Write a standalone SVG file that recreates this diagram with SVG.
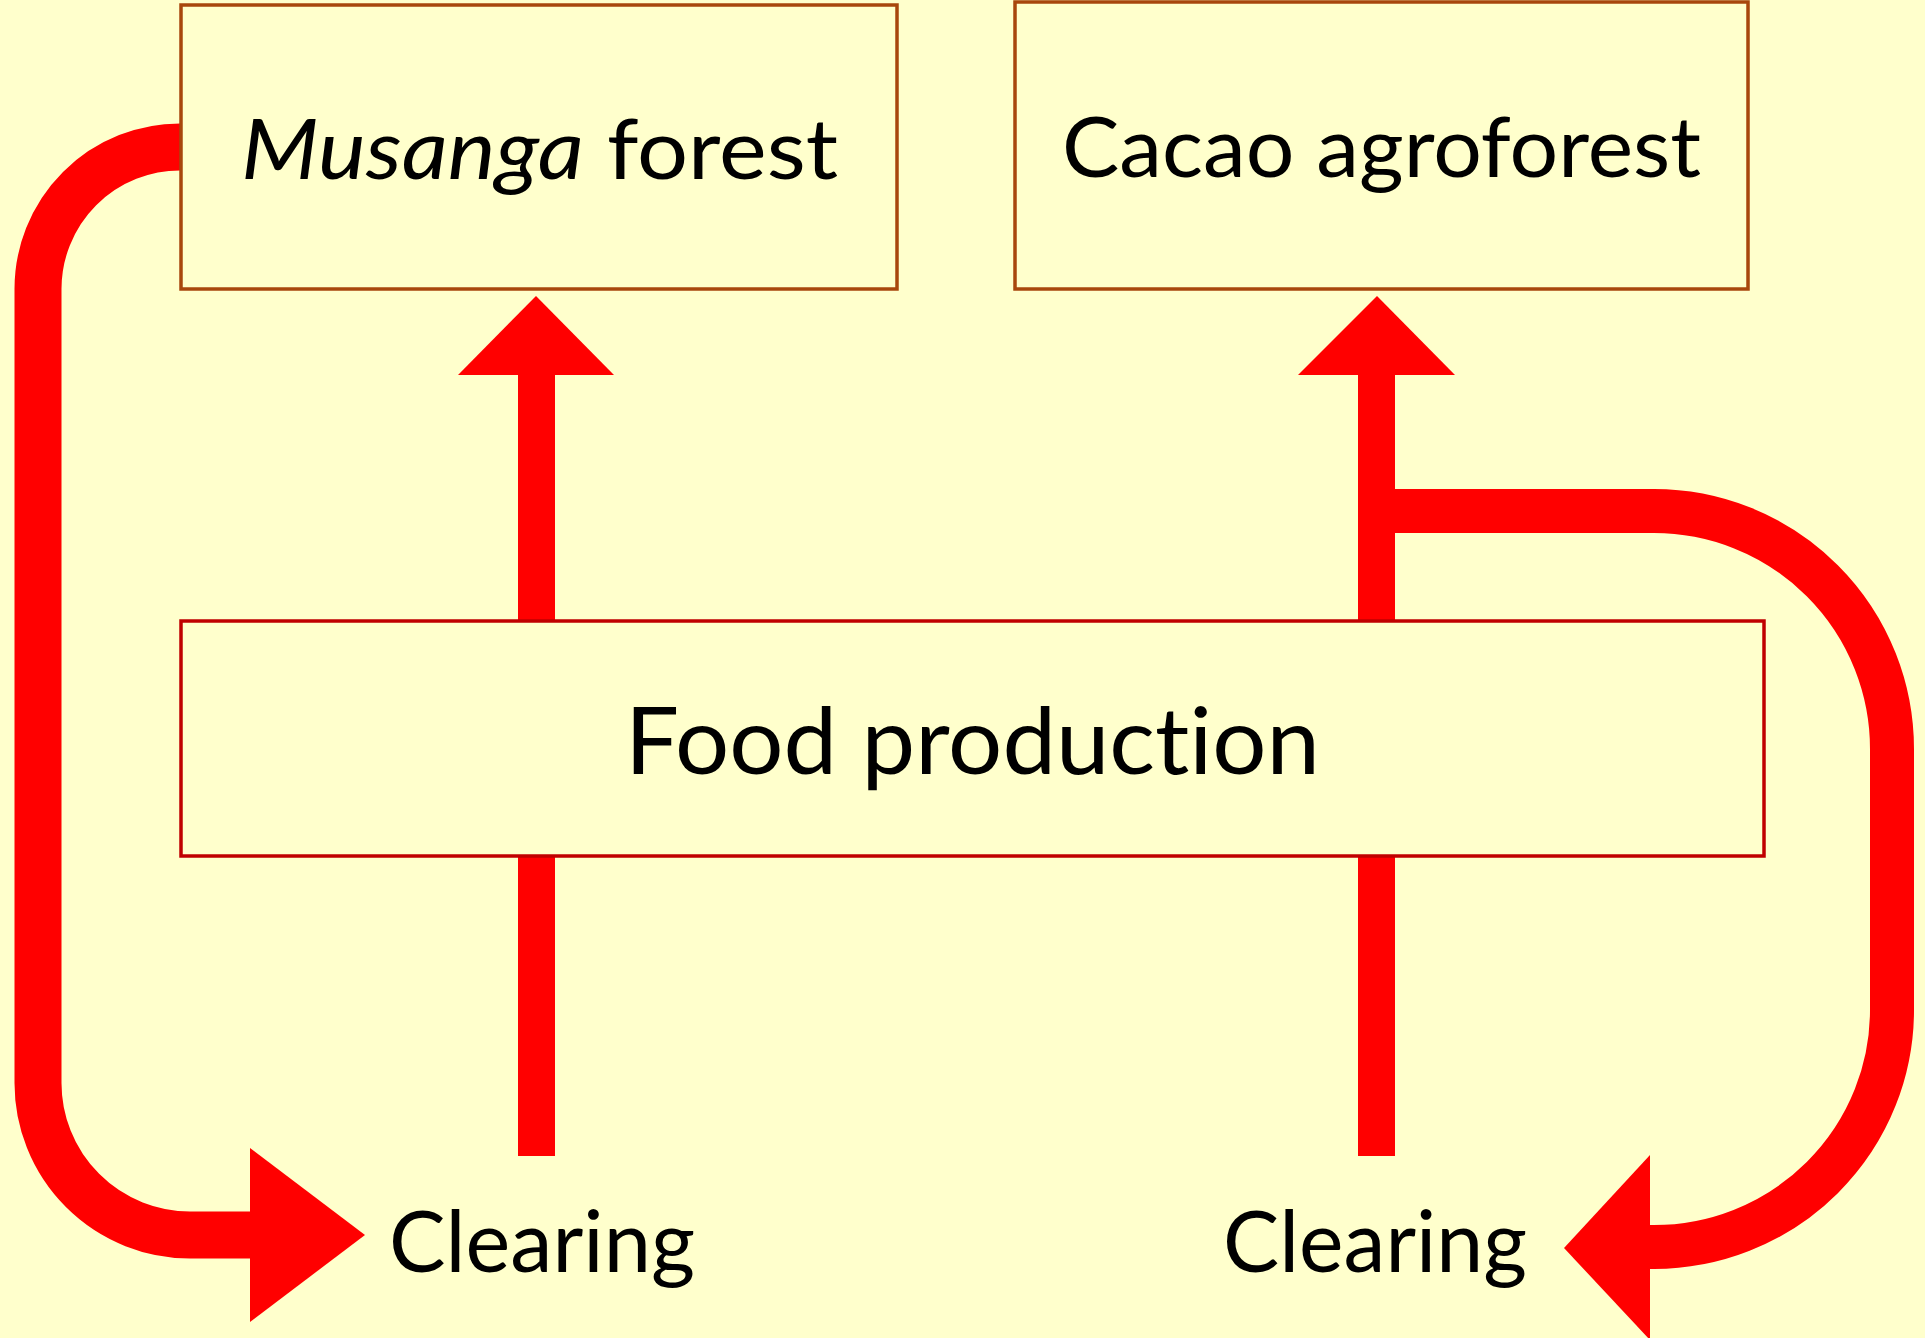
<svg xmlns="http://www.w3.org/2000/svg" width="1925" height="1338" viewBox="0 0 1925 1338">
<style>
.bg{fill:#FFFFCC}
.box{fill:#FFFFCC;stroke-width:3.5}
.forest{stroke:#A8470C}
.food{stroke:#C00000}
.flow{fill:none;stroke:#FF0000}
.red{fill:#FF0000}
.lbl{font-family:Lato,"Open Sans","Liberation Sans",sans-serif;fill:#000;text-anchor:middle;font-variant-ligatures:none;font-feature-settings:"liga" 0,"clig" 0}
</style>
<rect class="bg" x="0" y="0" width="1925" height="1338"/>
<g id="connectors">
  <path class="flow" stroke-width="47" d="M 200 147 H 180 A 142 142 0 0 0 38 289 V 1083 A 152 152 0 0 0 190 1235 H 252"/>
  <polygon class="red" points="250,1148 365,1235 250,1322"/>
  <path class="flow" stroke-width="44" d="M 1377 511 H 1654 A 238 238 0 0 1 1892 749 V 1010 A 238 237 0 0 1 1654 1247 H 1648"/>
  <polygon class="red" points="1650,1155 1564,1248 1650,1340"/>
  <rect class="red" x="518" y="372" width="37" height="250"/>
  <rect class="red" x="518" y="856" width="37" height="300"/>
  <polygon class="red" points="536,296 614,375 458,375"/>
  <rect class="red" x="1358" y="372" width="37" height="250"/>
  <rect class="red" x="1358" y="856" width="37" height="300"/>
  <polygon class="red" points="1377,296 1455,375 1298,375"/>
</g>
<g id="musanga">
  <rect class="box forest" x="181" y="5" width="716" height="284"/>
  <text class="lbl" x="539.5" y="179" font-size="84" textLength="597" lengthAdjust="spacingAndGlyphs"><tspan font-style="italic">Musanga</tspan> forest</text>
</g>
<g id="cacao">
  <rect class="box forest" x="1015" y="2" width="733" height="287"/>
  <text class="lbl" x="1381.5" y="177" font-size="84" textLength="639" lengthAdjust="spacingAndGlyphs">Cacao agroforest</text>
</g>
<g id="food">
  <rect class="box food" x="181" y="621" width="1583" height="235"/>
  <text class="lbl" x="972.5" y="774" font-size="93" textLength="695" lengthAdjust="spacingAndGlyphs">Food production</text>
</g>
<g id="clearing-left">
  <text class="lbl" x="542" y="1272" font-size="86" textLength="306" lengthAdjust="spacingAndGlyphs">Clearing</text>
</g>
<g id="clearing-right">
  <text class="lbl" x="1375" y="1272" font-size="86" textLength="304" lengthAdjust="spacingAndGlyphs">Clearing</text>
</g>
</svg>
